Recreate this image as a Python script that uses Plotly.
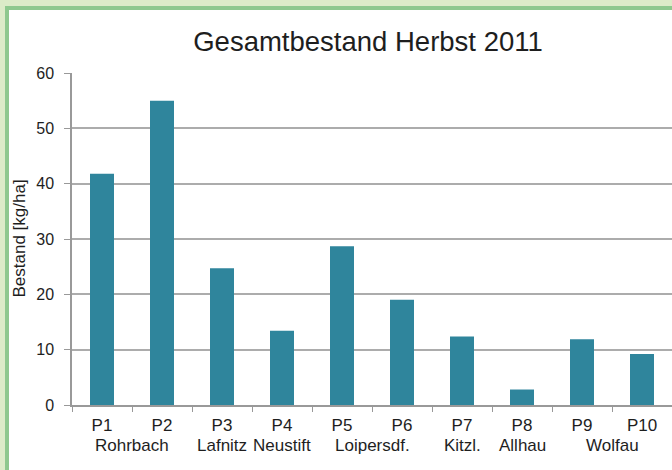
import plotly.graph_objects as go

# ---- data ----
categories = ["P1", "P2", "P3", "P4", "P5", "P6", "P7", "P8", "P9", "P10"]
bestand = [41.8, 55.0, 24.7, 13.4, 28.7, 19.0, 12.4, 2.8, 11.9, 9.2]
locations = ["Rohrbach", "Lafnitz", "Neustift", "Loipersdf.", "Kitzl.", "Allhau", "Wolfau"]
location_plots = [["P1", "P2"], ["P3"], ["P4"], ["P5", "P6"], ["P7"], ["P8"], ["P9", "P10"]]
y_ticks = [0, 10, 20, 30, 40, 50, 60]

title_text = "Gesamtbestand Herbst 2011"
y_title = "Bestand [kg/ha]"

# ---- layout geometry (pixels) ----
W, H = 672, 470
L, R, T, B = 72, 672, 73, 405
PW, PH = R - L, B - T

def px_x(px):
    return (px - L) / PW

def px_y(py):
    return (B - py) / PH

FONT = "Liberation Sans, Arial, Helvetica, sans-serif"
TXT = "#1e1e1e"
GRID = "#acacac"

fig = go.Figure()
fig.add_trace(go.Bar(
    x=categories, y=bestand,
    marker=dict(color="#2f859c", line=dict(width=0)),
    hoverinfo="x+y",
))

annotations = []
for name, plots in zip(locations, location_plots):
    idx = [categories.index(p) for p in plots]
    xc = sum(idx) / len(idx)
    annotations.append(dict(
        x=xc, xref="x", y=px_y(445), yref="paper",
        text=name, showarrow=False, xanchor="center", yanchor="middle",
        font=dict(family=FONT, size=17, color=TXT),
    ))

annotations.append(dict(
    x=px_x(19), xref="paper", y=px_y(238.5), yref="paper",
    text=y_title, showarrow=False, textangle=-90,
    xanchor="center", yanchor="middle",
    font=dict(family=FONT, size=17, color=TXT),
))

shapes = [dict(
    type="rect", xref="paper", yref="paper",
    x0=px_x(7), x1=px_x(720), y0=px_y(520), y1=px_y(8),
    fillcolor="white", line=dict(color="#8ec88e", width=4), layer="below",
)]

fig.update_layout(
    width=W, height=H,
    margin=dict(l=L, r=W - R, t=T, b=H - B, pad=0),
    paper_bgcolor="#dcebc8",
    plot_bgcolor="rgba(0,0,0,0)",
    showlegend=False,
    bargap=0.6,
    title=dict(
        text=title_text, x=368 / W, xanchor="center", xref="container",
        y=1 - 41 / H, yanchor="middle", yref="container",
        font=dict(family=FONT, size=27.5, color=TXT),
    ),
    font=dict(family=FONT, color=TXT),
    annotations=annotations,
    shapes=shapes,
)

fig.update_xaxes(
    type="category",
    showline=True, linecolor="#999999", linewidth=1.5,
    ticks="outside", tickson="boundaries", ticklen=5, tickcolor="#999999", tickwidth=1.2,
    tickfont=dict(family=FONT, size=17, color=TXT),
    ticklabelstandoff=4,
    showgrid=False, zeroline=False,
)
fig.update_yaxes(
    range=[0, 60], tickvals=y_ticks,
    showline=True, linecolor="#999999", linewidth=1.5,
    ticks="outside", ticklen=6, tickcolor="#999999", tickwidth=1.2,
    tickfont=dict(family=FONT, size=16, color=TXT),
    ticklabelstandoff=7,
    showgrid=True, gridcolor=GRID, gridwidth=1.5,
    zeroline=False,
)

fig.write_html(
    "out.html",
    config={"displayModeBar": False},
    post_script="document.body.style.margin='0';document.body.style.padding='0';"
                "document.body.style.overflow='hidden';",
)
